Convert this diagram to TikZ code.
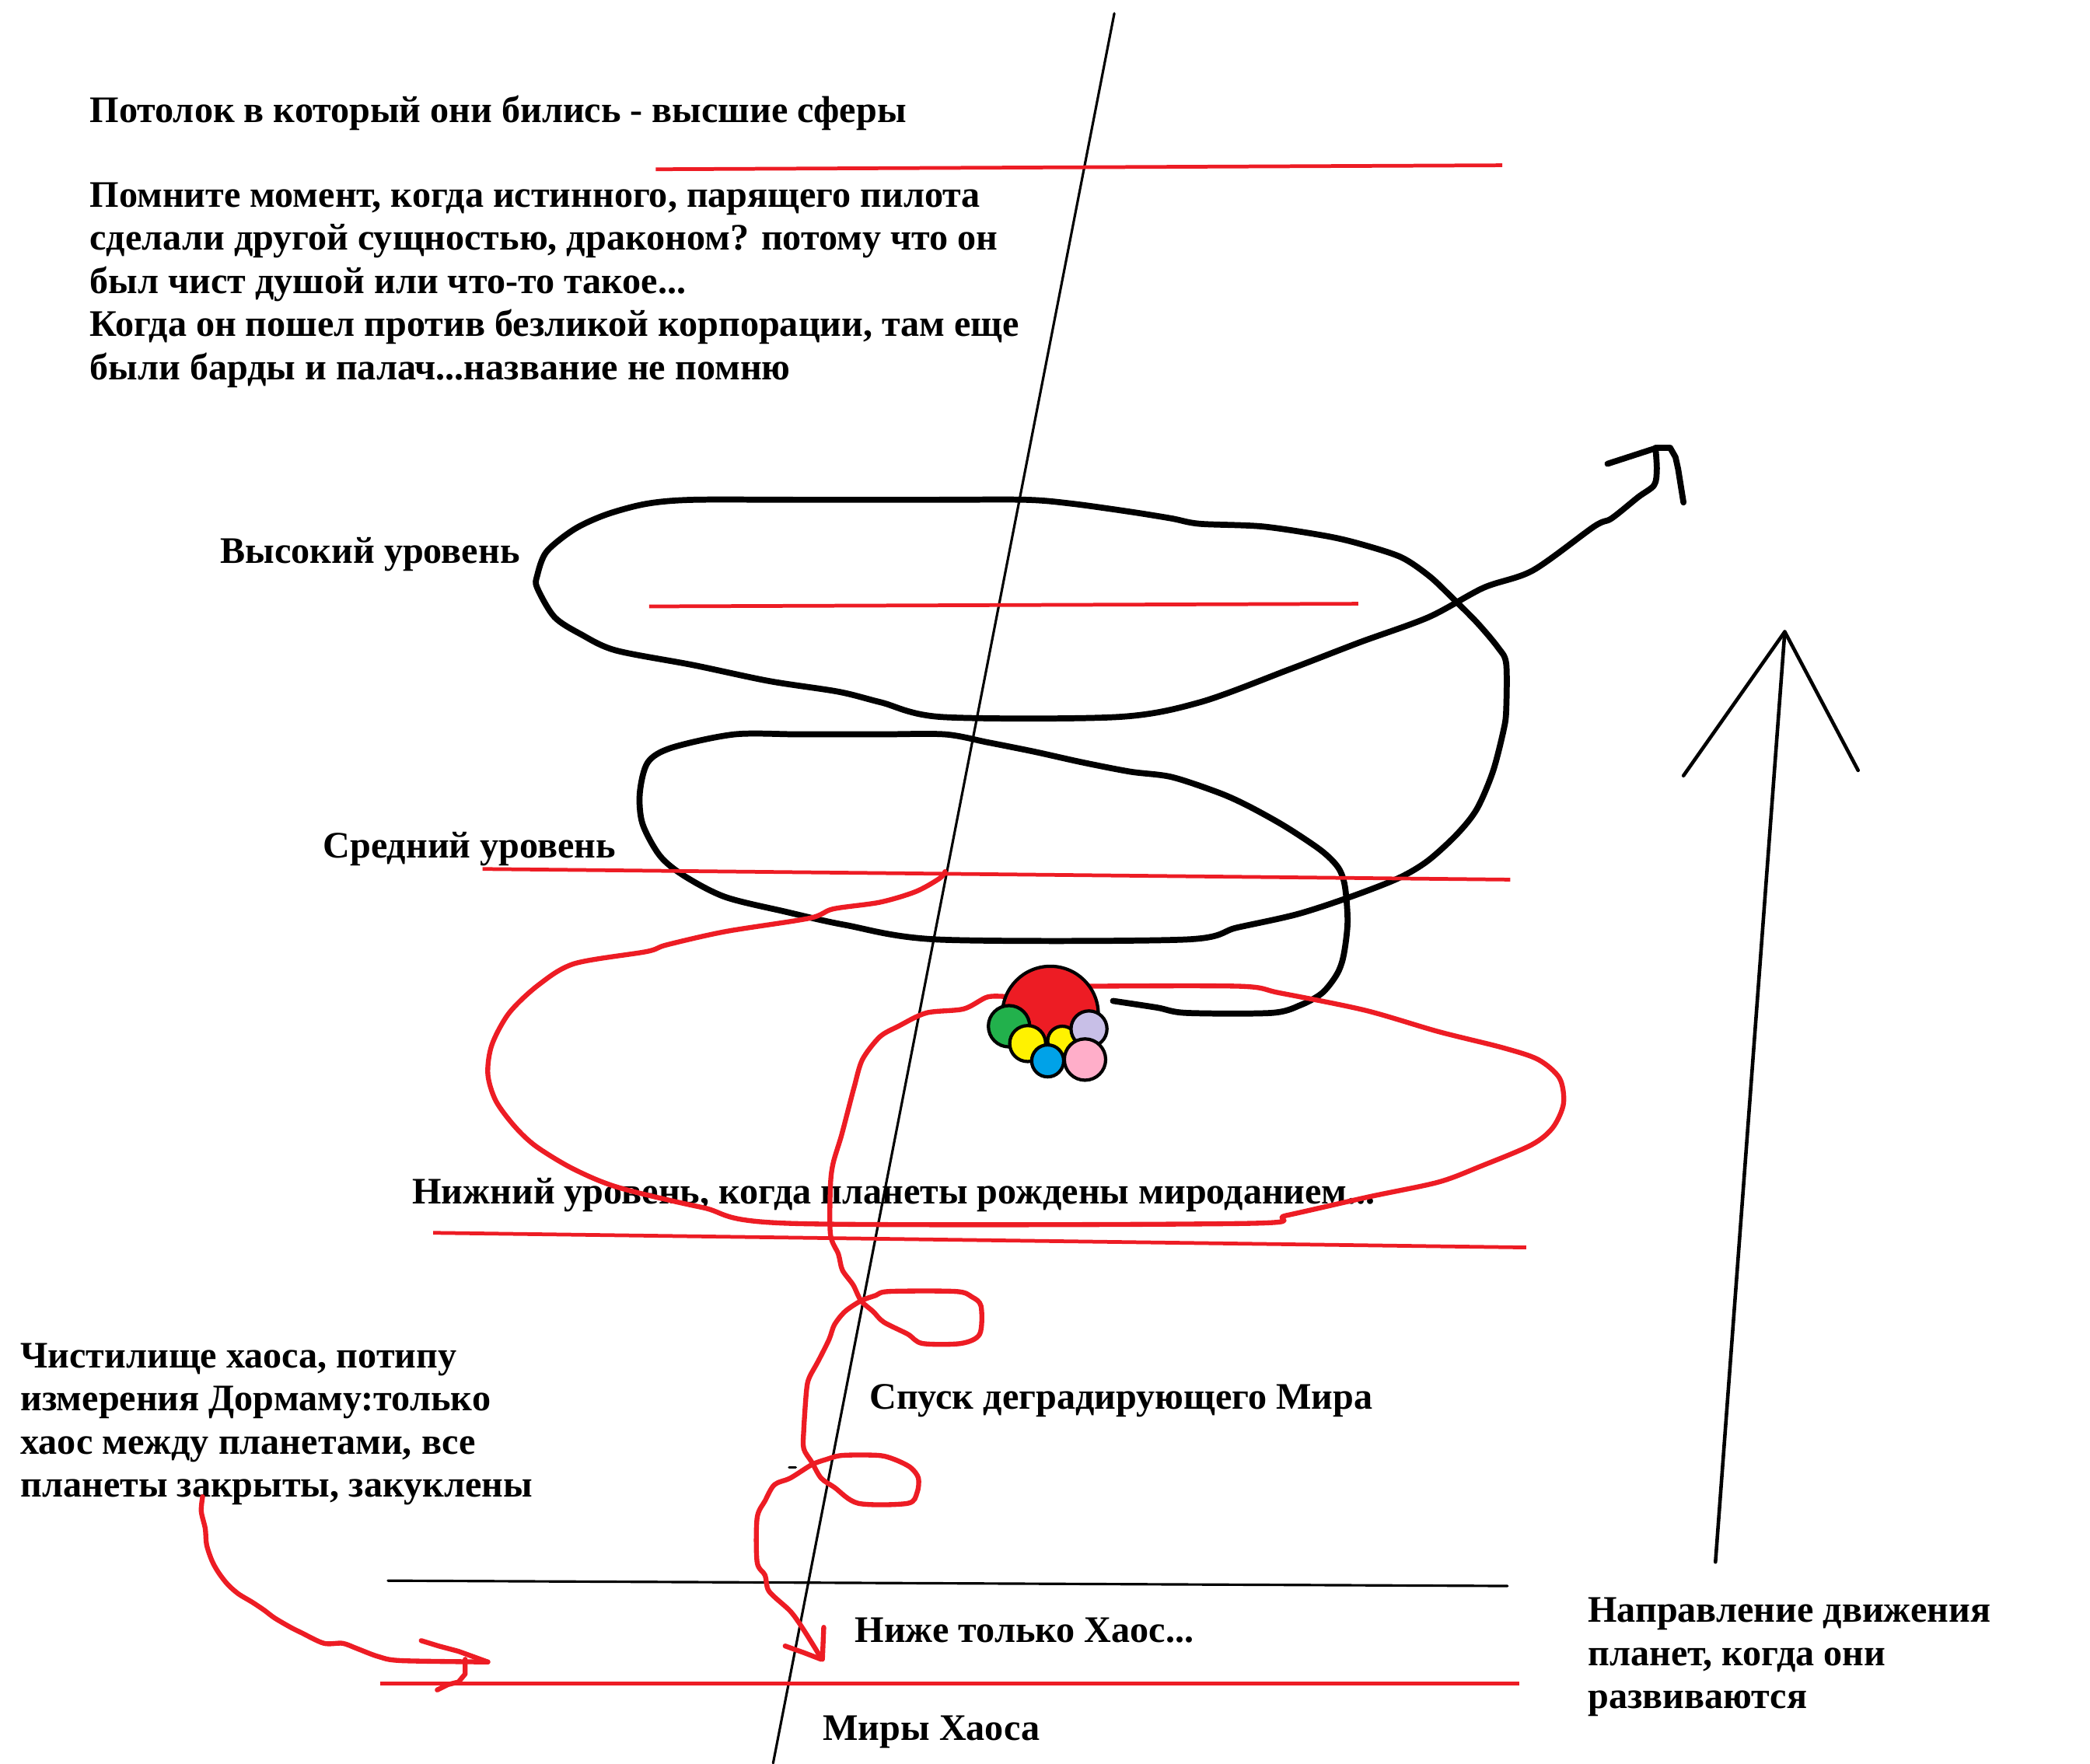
\documentclass[tikz,border=0pt]{standalone}
\usepackage{fontspec}
\setmainfont{Liberation Serif}
\definecolor{paintred}{HTML}{ED1C24}
\definecolor{paintgreen}{HTML}{22B14C}
\definecolor{paintyellow}{HTML}{FFF200}
\definecolor{paintlilac}{HTML}{C8BFE7}
\definecolor{paintblue}{HTML}{00A2E8}
\definecolor{paintpink}{HTML}{FFAEC9}

\begin{document}
\begin{tikzpicture}[
        x=0.017143cm, y=-0.017143cm,
        note/.style={anchor=base west, inner sep=0pt, align=left, font=\bfseries\fontsize{13.7}{15.8}\selectfont},
        inkline/.style={black, line width=2.2pt, line cap=round, line join=round},
        redink/.style={paintred, line width=1.8pt, line cap=round, line join=round},
        level/.style={paintred, line width=1.35pt},
        thinline/.style={black, line width=0.9pt, line cap=round},
        planet/.style={draw=black, line width=1.2pt}
    ]
    \path[fill=white, use as bounding box] (0,0) rectangle (1568,1323);

    % texts (base = baseline of the last line)
    \node[note] (ceiling) at (67,91.6) {Потолок в который они бились - высшие сферы};
    \node[note] (memory) at (67,284.8) {Помните момент, когда истинного, парящего пилота\\сделали другой сущностью, драконом? потому что он\\был чист душой или что-то такое...\\Когда он пошел против безликой корпорации, там еще\\были барды и палач...название не помню};
    \node[note] (high) at (165,422.5) {Высокий уровень};
    \node[note] (middle) at (242,643.5) {Средний уровень};
    \node[note] (low) at (309,903) {Нижний уровень, когда планеты рождены мироданием...};
    \node[note] (purgatory) at (15,1123.4) {Чистилище хаоса, потипу\\измерения Дормаму:только\\хаос между планетами, все\\планеты закрыты, закуклены};
    \node[note] (descent) at (652,1057) {Спуск деградирующего Мира};
    \node[note] (below) at (641,1232) {Ниже только Хаос...};
    \node[note] (worlds) at (617,1306) {Миры Хаоса};
    \node[note] (direction) at (1191,1282.1) {Направление движения\\планет, когда они\\развиваются};

    % axis and bottom line
    \draw[thinline] (836,10) -- (580,1323);
    \draw[thinline] (291,1186) -- (1131,1190);
    \draw[thinline] (592,1101) -- (597,1101);

    % direction arrow
    \draw[thinline, line width=1.3pt] (1287,1172) -- (1339,474);
    \draw[thinline, line width=1.3pt, line join=round] (1263,582) -- (1339,474) -- (1394,578);

    % black spiral
    \draw[inkline] plot[smooth, tension=0.5] coordinates {
        (835,751) (868,756) (890,760) (954,760) (976,754) (992,745) (1003,731) (1008,717)
        (1011,692) (1009,665) (1004,651) (991,638) (964,620) (937,605) (915,595) (879,583)
        (848,579) (812,572) (776,564) (741,557) (709,551) (660,551) (600,551) (551,551) (504,561) (486,572)
        (480,595) (482,618) (495,642) (513,657) (544,673) (589,684) (634,694) (705,705)
        (888,705) (928,696) (973,686) (1013,673) (1049,659) (1071,646) (1093,626) (1108,607)
        (1120,579) (1128,548) (1130,533) (1130,498) (1124,486) (1108,467) (1088,447) (1072,432)
        (1051,418) (1020,408) (994,402) (947,395) (900,393) (879,389) (848,384) (805,378)
        (770,375) (700,375) (600,375) (520,375) (485,378) (455,386) (431,397) (410,414) (403,432) (403,441) (416,463)
        (436,476) (462,488) (520,499) (577,511) (629,519) (661,527) (707,538) (838,538)
        (900,527) (968,502) (1020,482) (1072,463) (1113,441) (1150,428) (1196,395) (1209,389)
        (1229,373) (1241,364) (1243,352) (1242,336)};
    \draw[inkline] (1206,348) -- (1243,336) -- (1253,336) -- (1257,343) -- (1259,352) -- (1263,377);

    % levels
    \draw[level] (492,127) -- (1127,124);
    \draw[level] (487,455) -- (1019,453);
    \draw[level] (362,652) -- (1133,660);
    \draw[level] (325,925) -- (1145,936);
    \draw[level] (285,1263) -- (1140,1263);

    % red spiral
    \draw[redink] plot[smooth, tension=0.5] coordinates {
        (814,740) (930,740) (960,745) (1024,758) (1079,774) (1127,786) (1154,795) (1170,809)
        (1173,828) (1165,846) (1149,859) (1111,875) (1079,887) (1027,898) (965,912) (933,918)
        (595,918) (527,906) (464,891) (430,877) (402,860) (386,845) (372,826) (366,806)
        (369,784) (382,760) (404,739) (431,723) (485,714) (500,709) (544,699) (607,689)
        (625,682) (660,677) (687,669) (705,659) (709,654)};
    \draw[redink] plot[smooth, tension=0.5] coordinates {
        (757,748) (741,748) (723,757) (695,760) (674,770) (660,778) (647,795) (641,815)
        (636,834) (631,853) (625,873) (623,890) (623,926) (629,941) (632,953) (640,964)
        (646,976) (655,984) (663,992) (681,1001) (692,1008) (721,1008) (735,1001) (736,980)
        (729,973) (717,969) (667,969) (657,972) (646,976) (634,984) (626,994) (622,1005)
        (614,1021) (607,1034) (605,1044) (603,1073) (603,1087) (609,1097) (616,1109) (626,1116)
        (644,1128) (681,1128) (688,1120) (689,1109) (683,1101) (671,1095) (659,1092) (632,1092)
        (620,1095) (609,1099) (593,1109) (581,1114) (574,1126) (568,1139) (568,1172) (574,1182)
        (577,1194) (593,1209) (603,1223) (616,1244)};
    \draw[redink] (589,1235) -- (603,1240) -- (616,1245);
    \draw[redink] (618,1221) -- (617,1245);

    % purgatory arrow
    \draw[redink] plot[smooth, tension=0.5] coordinates {
        (152,1123) (151,1134) (154,1147) (155,1159) (159,1171) (164,1180) (171,1189) (179,1196)
        (189,1202) (198,1208) (206,1214) (218,1221) (226,1225) (243,1233) (257,1233) (268,1237)
        (284,1243) (301,1246) (366,1247)};
    \draw[redink] (316,1231) -- (329,1235) -- (344,1239) -- (366,1247);
    \draw[redink] (349,1245) -- (349,1256) -- (344,1262) -- (336,1264) -- (328,1268);

    % planets
    \draw[planet, fill=paintred] (788,761) circle[radius=36];
    \draw[planet, fill=paintgreen] (757,770) circle[radius=15.5];
    \draw[planet, fill=paintyellow] (797,781) circle[radius=11];
    \draw[planet, fill=paintyellow] (771,783) circle[radius=13.5];
    \draw[planet, fill=paintlilac] (817,772) circle[radius=13.5];
    \draw[planet, fill=paintblue] (786,796) circle[radius=12];
    \draw[planet, fill=paintpink] (814,795) circle[radius=15.5];
\end{tikzpicture}
\end{document}
